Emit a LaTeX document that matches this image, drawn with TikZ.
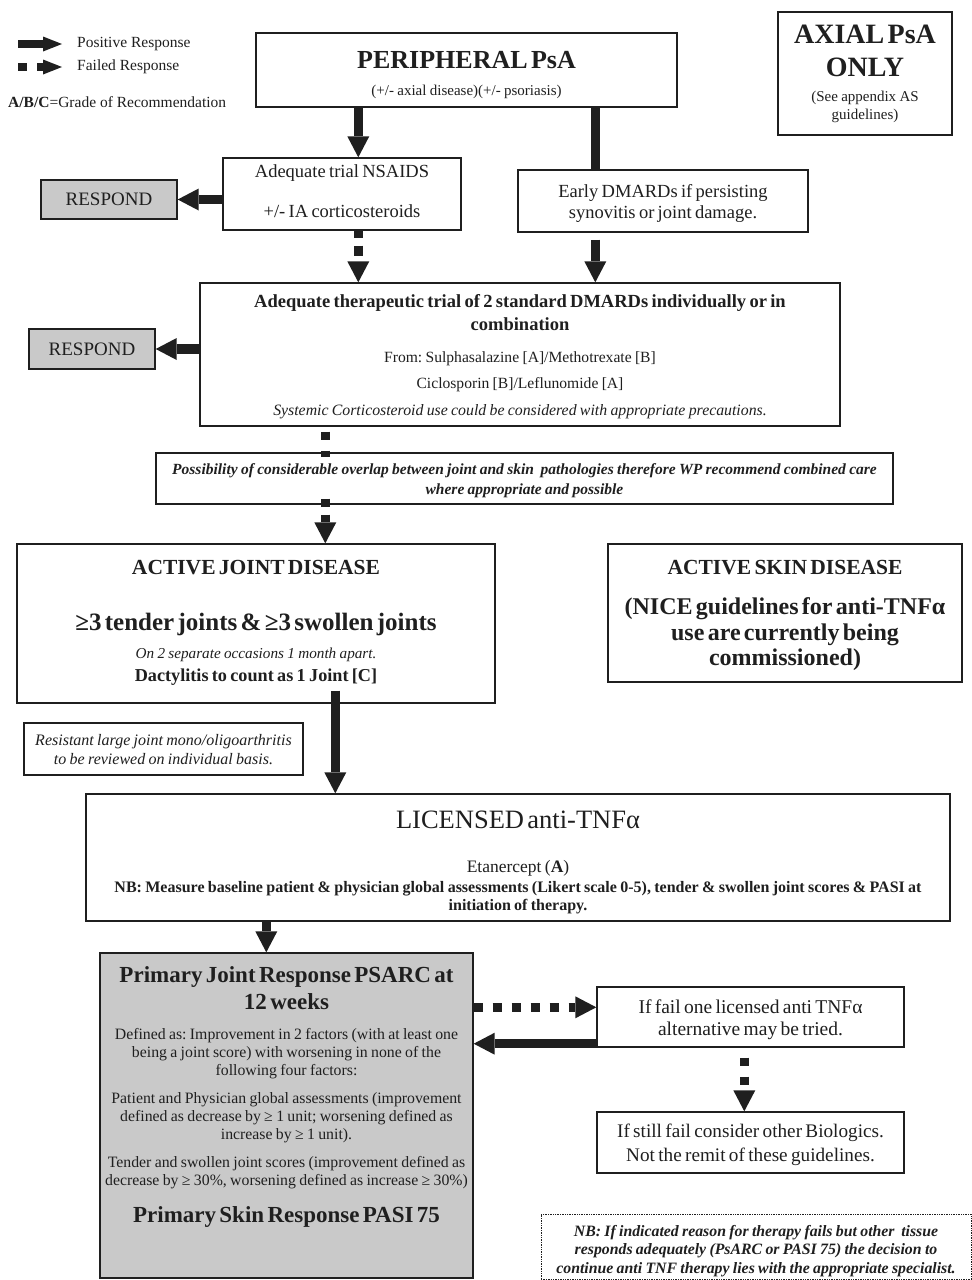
\documentclass[tikz,border=0pt]{standalone}
\usepackage{fontspec}
\setmainfont{Liberation Serif}
\usetikzlibrary{arrows.meta,calc}
\setlength\parindent{0pt}
\setlength\parskip{0pt}
\frenchspacing
\newcommand\Ln[3]{{\fontsize{#1}{#2}\selectfont #3\par}}
\newcommand\Top[1]{\rule{0pt}{#1pt}}
\newcommand\Bot[1]{\rule[-#1pt]{0pt}{#1pt}}
\definecolor{ink}{gray}{0.12}
\definecolor{shade}{gray}{0.79}
\begin{document}
\begin{tikzpicture}[x=1pt,y=-1pt,
  box/.style={draw=ink, line width=1.4pt, inner sep=0pt, align=center, text=ink, fill=white},
  greybox/.style={box, fill=shade},
  posarr/.style={draw=ink, line width=9.5pt, -{Triangle[width=22pt,length=21pt,line width=0pt]}},
  failarr/.style={posarr, dash pattern=on 9pt off 10pt},
  legarr/.style={draw=ink, line width=8pt, -{Triangle[width=15pt,length=19pt,line width=0pt]}},
  legtext/.style={anchor=west, inner sep=0pt, text=ink, font=\fontsize{15.5}{18}\selectfont}]
\useasboundingbox[fill=white] (0,0) rectangle (972,1280);

% legend
\coordinate (lp1) at (18,44); \coordinate (lp2) at (62,44);
\coordinate (lf1) at (18,67); \coordinate (lf2) at (62,67);
\draw[legarr] (lp1) -- (lp2);
\draw[legarr, dash pattern=on 9pt off 10pt on 40pt off 0pt] (lf1) -- (lf2);
\node[legtext] (legposT) at (77,44) {Positive Response};
\node[legtext] (legfailT) at (77,67) {Failed Response};
\node[legtext] (leggradeT) at (8,102) {\textbf{A/B/C}=Grade of Recommendation};

% boxes
\node[box, minimum width=421pt, minimum height=74pt, text width=410pt] (peri) at (466.5,70)
  {\Ln{26}{0}{\Top{35.3}\bfseries PERIPHERAL PsA}\Ln{15}{27.5}{(+/- axial disease)(+/- psoriasis)\Bot{11.2}}};
\node[box, minimum width=174pt, minimum height=123pt, text width=170pt] (axial) at (865,73.5)
  {\Ln{28}{0}{\Top{31.9}\bfseries AXIAL PsA}\Ln{28}{33}{\bfseries ONLY}\Ln{15}{24.9}{(See appendix AS}\Ln{15}{18}{guidelines)\Bot{15.2}}};
\node[box, minimum width=238pt, minimum height=72pt, text width=232pt] (nsaid) at (342,194)
  {\Ln{18.5}{0}{\Top{19.9}Adequate trial NSAIDS}\Ln{18.5}{40}{+/- IA corticosteroids\Bot{12.1}}};
\node[greybox, minimum width=136pt, minimum height=39pt, font=\fontsize{19}{22}\selectfont] (resp1) at (109,199.5) {RESPOND};
\node[box, minimum width=290pt, minimum height=62pt, text width=284pt] (early) at (663,201)
  {\Ln{18.5}{0}{\Top{27.9}Early DMARDs if persisting}\Ln{18.5}{21}{synovitis or joint damage.\Bot{13.1}}};
\node[box, minimum width=640pt, minimum height=143pt, text width=634pt] (trial) at (520,354.5)
  {\Ln{18.5}{0}{\Top{24.9}\bfseries Adequate therapeutic trial of 2 standard DMARDs individually or in}\Ln{18.5}{23}{\bfseries combination}\Ln{15.6}{31.1}{From: Sulphasalazine [A]/Methotrexate [B]}\Ln{15.6}{26}{Ciclosporin [B]/Leflunomide [A]}\Ln{15.8}{27.1}{\itshape Systemic Corticosteroid use could be considered with appropriate precautions.\Bot{10.9}}};
\node[greybox, minimum width=126pt, minimum height=40pt, font=\fontsize{19}{22}\selectfont] (resp2) at (92,349) {RESPOND};
\node[box, minimum width=737pt, minimum height=51pt, text width=735pt] (note) at (524.5,478.5)
  {\Ln{15.5}{0}{\Top{21}\bfseries\itshape Possibility of considerable overlap between joint and skin\ \ pathologies therefore WP recommend combined care}\Ln{15.5}{20}{\bfseries\itshape where appropriate and possible\Bot{10}}};
\node[box, minimum width=478pt, minimum height=159pt, text width=470pt] (joint) at (256,623.5)
  {\Ln{21.5}{0}{\Top{30.9}\bfseries ACTIVE JOINT DISEASE}\Ln{25}{55.1}{\bfseries ≥3 tender joints \& ≥3 swollen joints}\Ln{15.2}{28.9}{\itshape On 2 separate occasions 1 month apart.}\Ln{18.2}{22.9}{\bfseries Dactylitis to count as 1 Joint [C]\Bot{21.2}}};
\node[box, minimum width=354pt, minimum height=138pt, text width=350pt] (skin) at (785,613)
  {\Ln{21.5}{0}{\Top{30.9}\bfseries ACTIVE SKIN DISEASE}\Ln{24}{39.8}{\bfseries (NICE guidelines for anti-TNFα}\Ln{24}{26}{\bfseries use are currently being}\Ln{24}{25}{\bfseries commissioned)\Bot{16.3}}};
\node[box, minimum width=279pt, minimum height=52pt, text width=277pt] (resist) at (163.5,749)
  {\Ln{16}{0}{\Top{22.1}\itshape Resistant large joint mono/oligoarthritis}\Ln{16}{19}{\itshape to be reviewed on individual basis.\Bot{10.9}}};
\node[box, minimum width=864pt, minimum height=127pt, text width=858pt] (lic) at (518,857.5)
  {\Ln{26.5}{0}{\Top{34.5}LICENSED anti-TNFα}\Ln{17.5}{44.1}{Etanercept (\textbf{A})}\Ln{16}{19.6}{\bfseries NB: Measure baseline patient \& physician global assessments (Likert scale 0-5), tender \& swollen joint scores \& PASI at}\Ln{16}{18}{\bfseries initiation of therapy.\Bot{10.8}}};
\node[greybox, minimum width=373pt, minimum height=325pt, text width=372pt] (primary) at (286.5,1115.5)
  {\Ln{23}{0}{\Top{29.4}\bfseries Primary Joint Response PSARC at}\Ln{23}{27}{\bfseries 12 weeks}%
   \Ln{15.8}{29.7}{Defined as: Improvement in 2 factors (with at least one}\Ln{15.8}{18}{being a joint score) with worsening in none of the}\Ln{15.8}{18}{following four factors:}%
   \Ln{15.8}{28}{Patient and Physician global assessments (improvement}\Ln{15.8}{18}{defined as decrease by ≥ 1 unit; worsening defined as}\Ln{15.8}{18}{increase by ≥ 1 unit).}%
   \Ln{15.8}{28}{Tender and swollen joint scores (improvement defined as}\Ln{15.8}{18}{decrease by ≥ 30\%, worsening defined as increase ≥ 30\%)}%
   \Ln{23}{37.3}{\bfseries Primary Skin Response PASI 75\Bot{55.6}}};
\node[box, minimum width=307pt, minimum height=60pt, text width=303pt] (iffail) at (750.5,1017)
  {\Ln{19.5}{0}{\Top{26.2}If fail one licensed anti TNFα}\Ln{19.5}{22}{alternative may be tried.\Bot{11.8}}};
\node[box, minimum width=307pt, minimum height=61pt, text width=303pt] (still) at (750.5,1142.5)
  {\Ln{19.2}{0}{\Top{25.1}If still fail consider other Biologics.}\Ln{19.2}{24}{Not the remit of these guidelines.\Bot{11.9}}};
\node[box, densely dotted, line width=0.8pt, minimum width=430pt, minimum height=65pt, text width=428pt] (nb) at (756,1246.5)
  {\Ln{15.8}{0}{\Top{22.1}\bfseries\itshape NB: If indicated reason for therapy fails but other\ \ tissue}\Ln{15.8}{18}{\bfseries\itshape responds adequately (PsARC or PASI 75) the decision to}\Ln{15.8}{19}{\bfseries\itshape continue anti TNF therapy lies with the appropriate specialist.\Bot{5.9}}};

% connectors
\draw[posarr] ([xshift=103pt]peri.south west) -- ([xshift=136pt]nsaid.north west);
\draw[draw=ink, line width=9.5pt] ([xshift=340pt]peri.south west) -- ([xshift=78pt]early.north west);
\draw[posarr] (nsaid.west |- resp1.east) -- (resp1.east);
\draw[failarr, dash pattern=on 7pt off 8pt on 10pt off 7pt] ([xshift=136pt]nsaid.south west) -- ([xshift=159pt]trial.north west);
\draw[posarr] ([xshift=78pt,yshift=-7pt]early.south west) -- ([xshift=396pt]trial.north west);
\draw[posarr] (trial.west |- resp2.east) -- (resp2.east);
\draw[draw=ink, line width=9.5pt, dash pattern=on 0pt off 5pt on 8pt off 11pt on 8pt off 100pt]
  ([xshift=126pt]trial.south west) -- ([xshift=170pt,yshift=-5pt]note.north west);
\draw[posarr, dash pattern=on 8pt off 8pt on 60pt off 0pt]
  ([xshift=170pt,yshift=6pt]note.south west) -- ([xshift=309pt]joint.north west);
\draw[posarr] ([xshift=319pt,yshift=13pt]joint.south west) -- ([xshift=250pt]lic.north west);
\draw[posarr] ([xshift=181pt]lic.south west) -- ([xshift=167pt]primary.north west);
\draw[failarr] ([yshift=-55pt]primary.north east) -- ([yshift=-21pt]iffail.north west);
\coordinate (fb) at ([yshift=4pt]iffail.south west);
\draw[posarr] (fb) -- (primary.east |- fb);
\draw[failarr, dash pattern=on 8pt off 11pt, dash phase=9pt] ([xshift=148pt]iffail.south west) -- ([xshift=148pt]still.north west);
\end{tikzpicture}
\end{document}
